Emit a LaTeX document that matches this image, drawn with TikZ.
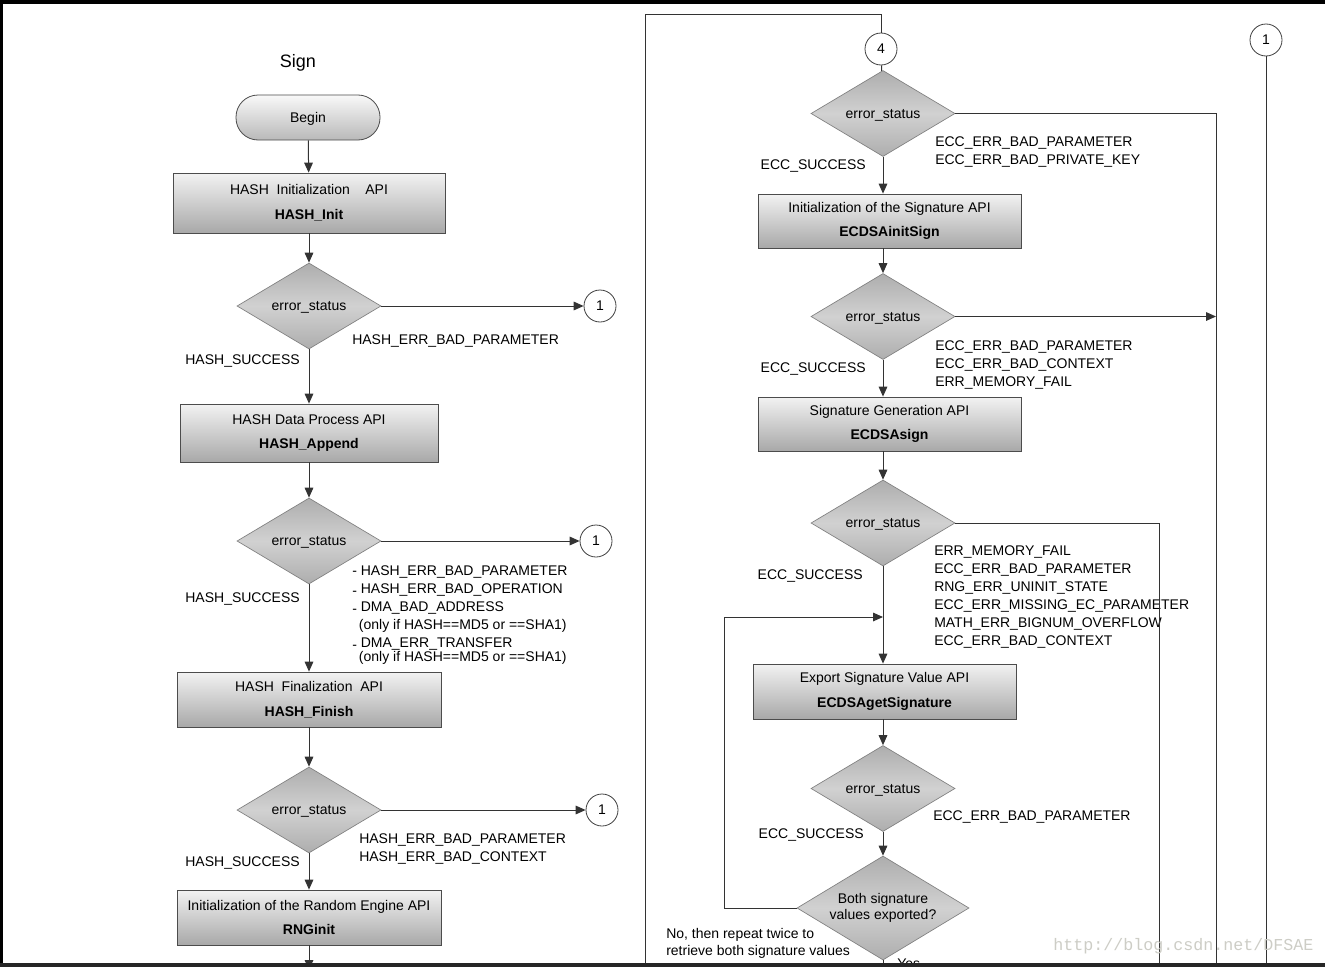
\documentclass[tikz,border=0pt]{standalone}
\usepackage{fontspec}
\setmainfont{Liberation Sans}
\newfontfamily\wmfont{Liberation Mono}
\usetikzlibrary{shapes.geometric,arrows.meta}
\definecolor{wmgray}{RGB}{205,205,198}
\tikzstyle{connector} = [line width=0.75pt, draw=black!80]
\tikzstyle{arrow} = [connector, -{Triangle[length=7.5pt,width=6.5pt]}]
\tikzstyle{apibox} = [rectangle, draw=black!70, line width=0.6pt, top color=gray!10, bottom color=gray!68, align=center, inner sep=0pt, font=\fontsize{10.5}{18.5}\selectfont]
\tikzstyle{decision} = [diamond, aspect=1.67, draw=black!50, line width=0.5pt, top color=gray!64, bottom color=gray!64, middle color=gray!36, inner sep=0pt, minimum width=108pt, minimum height=64.5pt, align=center, font=\fontsize{10.5}{12}\selectfont]
\tikzstyle{terminal} = [rectangle, rounded corners=16.5pt, draw=black!70, line width=0.6pt, top color=gray!5, bottom color=gray!55, minimum width=108pt, minimum height=33.75pt, font=\fontsize{10.5}{12}\selectfont]
\tikzstyle{link} = [circle, draw=black!75, line width=0.6pt, fill=white, minimum size=24pt, inner sep=0pt, font=\fontsize{10.5}{12}\selectfont]
\tikzstyle{lbl} = [inner sep=0pt, align=left, yshift=-1.5pt, font=\fontsize{10.5}{13.5}\selectfont]

\begin{document}
\begin{tikzpicture}[x=0.75pt,y=-0.75pt]
                \useasboundingbox (0,0) rectangle (1325,967);
                \fill [white] (0,0) rectangle (1325,967);

                \coordinate (pgbot) at (0,970);
                \coordinate (tl) at (645,14);
                \coordinate (busA) at (1216,970);
                \coordinate (busB) at (1159,970);
                \coordinate (loop) at (724,617);
                \coordinate (join) at (883,617);

                \node (title) at (298,63) {\fontsize{13.5}{16}\selectfont Sign};
                \node (begin) [terminal, text depth=0pt] at (308,117.5) {Begin};
                \node (b1) [apibox, minimum width=204pt, minimum height=45pt] at (309,203) {HASH\ \ Initialization\ \ \ \ API\\\textbf{HASH\_Init}};
                \node (d1) [decision, text depth=0pt] at (309,306) {error\_status};
                \node (b2) [apibox, minimum width=193.5pt, minimum height=43.5pt] at (309,433) {HASH Data Process API\\\textbf{HASH\_Append}};
                \node (d2) [decision, text depth=0pt] at (309,541) {error\_status};
                \node (b3) [apibox, minimum width=198pt, minimum height=41.25pt] at (309,699.5) {HASH\ \ Finalization\ \ API\\\textbf{HASH\_Finish}};
                \node (d3) [decision, text depth=0pt] at (309,810) {error\_status};
                \node (b4) [apibox, minimum width=198pt, minimum height=41.25pt] at (309,917.5) {Initialization of the Random Engine API\\\textbf{RNGinit}};

                \node (c1) [link] at (600,306) {1};
                \node (c2) [link] at (596,541) {1};
                \node (c3) [link] at (602,810) {1};

                \node (e1) [lbl, anchor=west] at (352,339) {HASH\_ERR\_BAD\_PARAMETER};
                \node (s1) [lbl, anchor=east] at (300,359) {HASH\_SUCCESS};
                \node (e2) [lbl, anchor=west] at (352,613) {-\ HASH\_ERR\_BAD\_PARAMETER\\
                    \raisebox{-0.3ex}{-}\ HASH\_ERR\_BAD\_OPERATION\\
                    \raisebox{-0.3ex}{-}\ DMA\_BAD\_ADDRESS\\
                    \hspace*{5pt}(only if HASH==MD5 or ==SHA1)\\
                    \raisebox{-0.3ex}{-}\ DMA\_ERR\_TRANSFER\\[-3.3pt]
                    \hspace*{5pt}(only if HASH==MD5 or ==SHA1)};
                \node (s2) [lbl, anchor=east] at (300,597) {HASH\_SUCCESS};
                \node (e3) [lbl, anchor=west] at (359,847) {HASH\_ERR\_BAD\_PARAMETER\\HASH\_ERR\_BAD\_CONTEXT};
                \node (s3) [lbl, anchor=east] at (300,861) {HASH\_SUCCESS};

                \node (c4) [link] at (881,49) {4};
                \node (c5) [link] at (1266,40) {1};
                \node (rd1) [decision, text depth=0pt] at (883,113.5) {error\_status};
                \node (rb1) [apibox, minimum width=197.25pt, minimum height=40.5pt] at (889.5,221) {Initialization of the Signature API\\\textbf{ECDSAinitSign}};
                \node (rd2) [decision, text depth=0pt] at (883,316.5) {error\_status};
                \node (rb2) [apibox, minimum width=197.25pt, minimum height=40.5pt] at (889.5,424) {Signature Generation API\\\textbf{ECDSAsign}};
                \node (rd3) [decision, text depth=0pt] at (883,523) {error\_status};
                \node (rb3) [apibox, minimum width=197.25pt, minimum height=41.25pt] at (884.5,691.5) {Export Signature Value API\\\textbf{ECDSAgetSignature}};
                \node (rd4) [decision, text depth=0pt] at (883,788.5) {error\_status};
                \node (rd5) [decision, aspect=1.65, minimum width=129pt, minimum height=78pt, font=\fontsize{10.5}{12.3}\selectfont] at (883,908) {Both signature\\values exported?};

                \node (re1) [lbl, anchor=west] at (935,150) {ECC\_ERR\_BAD\_PARAMETER\\ECC\_ERR\_BAD\_PRIVATE\_KEY};
                \node (rs1) [lbl, anchor=east] at (866,164) {ECC\_SUCCESS};
                \node (re2) [lbl, anchor=west] at (935,362.5) {ECC\_ERR\_BAD\_PARAMETER\\ECC\_ERR\_BAD\_CONTEXT\\ERR\_MEMORY\_FAIL};
                \node (rs2) [lbl, anchor=east] at (866,367) {ECC\_SUCCESS};
                \node (re3) [lbl, anchor=west] at (934,595) {ERR\_MEMORY\_FAIL\\ECC\_ERR\_BAD\_PARAMETER\\RNG\_ERR\_UNINIT\_STATE\\ECC\_ERR\_MISSING\_EC\_PARAMETER\\MATH\_ERR\_BIGNUM\_OVERFLOW\\ECC\_ERR\_BAD\_CONTEXT};
                \node (rs3) [lbl, anchor=east] at (863,574) {ECC\_SUCCESS};
                \node (re4) [lbl, anchor=west] at (933,815) {ECC\_ERR\_BAD\_PARAMETER};
                \node (rs4) [lbl, anchor=east] at (864,833) {ECC\_SUCCESS};
                \node (rno) [lbl, anchor=west, font=\fontsize{10.5}{12.8}\selectfont] at (666,941.5) {No, then repeat twice to\\retrieve both signature values};
                \node (ryes) [lbl, anchor=west] at (897,962) {Yes};

                \draw [arrow] (begin) -- (b1);
                \draw [arrow] (b1) -- (d1);
                \draw [arrow] (d1) -- (b2);
                \draw [arrow] (b2) -- (d2);
                \draw [arrow] (d2) -- (b3);
                \draw [arrow] (b3) -- (d3);
                \draw [arrow] (d3) -- (b4);
                \draw [arrow] (b4.south) -- (b4 |- pgbot);
                \draw [arrow] (d1) -- (c1);
                \draw [arrow] (d2) -- (c2);
                \draw [arrow] (d3) -- (c3);

                \draw [connector] (c4.north) |- (tl) -- (tl |- pgbot);
                \draw [connector] (c4) -- (rd1);
                \draw [connector] (rd1.east) -| (busA);
                \draw [arrow] (rd1.south) -- (rd1.south |- rb1.north);
                \draw [arrow] (rd1 |- rb1.south) -- (rd2.north);
                \draw [arrow] (rd2.south) -- (rd2.south |- rb2.north);
                \draw [arrow] (rd2.east) -- (rd2.east -| busA);
                \draw [arrow] (rd2 |- rb2.south) -- (rd3.north);
                \draw [connector] (rd3.east) -| (busB);
                \draw [arrow] (rd3.south) -- (rd3.south |- rb3.north);
                \draw [arrow] (rd3 |- rb3.south) -- (rd4.north);
                \draw [arrow] (rd4) -- (rd5);
                \draw [arrow] (rd5.west) -| (loop) -- (join);
                \draw [connector] (rd5.south) -- (rd5.south |- pgbot);
                \draw [connector] (c5.south) -- (c5 |- pgbot);

                \node (wm) [anchor=west, inner sep=0pt, text=wmgray, font=\wmfont\fontsize{12.5}{14}\selectfont] at (1053,946) {http://blog.csdn.net/DFSAE};

                \fill [black] (0,0) rectangle (1325,4);
                \fill [black] (0,0) rectangle (3,967);
                \fill [black!85] (0,963) rectangle (1325,967);
            \end{tikzpicture}
\end{document}
